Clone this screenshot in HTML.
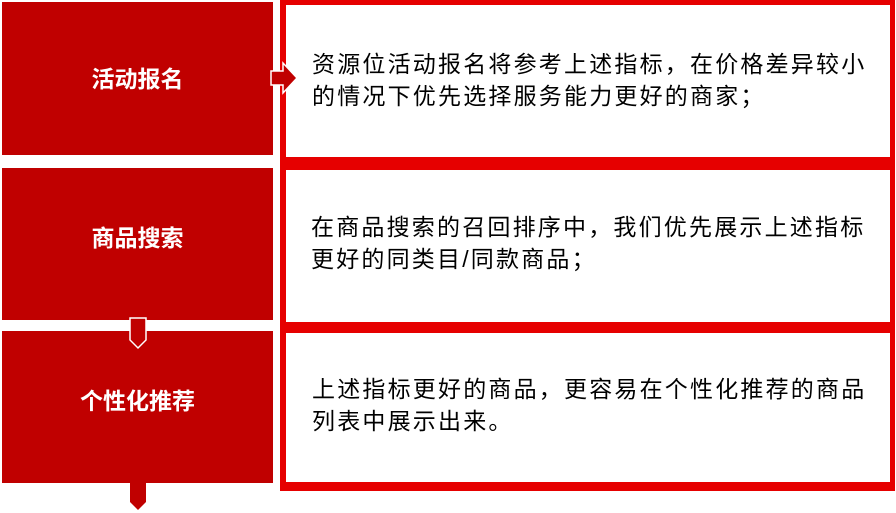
<!DOCTYPE html>
<html><head><meta charset="utf-8"><style>
body{margin:0;width:896px;height:513px;background:#fff;position:relative;overflow:hidden;font-family:"Liberation Sans","Noto Sans CJK SC",sans-serif}
.l{position:absolute;left:2px;width:271px;background:#c00000;color:#fff;font-weight:bold;font-size:23px;display:flex;align-items:center;justify-content:center;padding-bottom:4px;box-sizing:border-box}
.r{position:absolute;left:286px;width:604px;background:#fff}
.t{position:absolute;left:312px;font-size:23px;letter-spacing:2.2px;line-height:32px;color:#000;white-space:nowrap}
</style></head><body>
<div style="position:absolute;left:280px;top:0;width:615px;height:491px;background:#e60000"></div>
<div class="r" style="top:5px;height:152px"></div>
<div class="r" style="top:170px;height:152px"></div>
<div class="r" style="top:333px;height:149px"></div>
<div class="l" style="top:2px;height:153px">活动报名</div>
<div class="l" style="top:168px;height:152px;padding-bottom:16px">商品搜索</div>
<div class="l" style="top:331px;height:152px;padding-bottom:16px">个性化推荐</div>
<svg style="position:absolute;left:0;top:0" width="896" height="513">
<polygon points="271,71 283,71 283,63 297,78 283,93 283,85 271,85" fill="#c00000" stroke="#fff" stroke-width="1.5"/>
<polygon points="130,318 146,318 146,340 138,348 130,340" fill="#c00000" stroke="#fff" stroke-width="1.5"/>
<polygon points="130,482 146,482 146,502 138,510 130,502" fill="#c00000"/>
</svg>
<div class="t" style="top:48px">资源位活动报名将参考上述指标，在价格差异较小<br>的情况下优先选择服务能力更好的商家；</div>
<div class="t" style="top:211px;left:311px">在商品搜索的召回排序中，我们优先展示上述指标<br>更好的同类目/同款商品；</div>
<div class="t" style="top:373px">上述指标更好的商品，更容易在个性化推荐的商品<br>列表中展示出来。</div>
</body></html>
